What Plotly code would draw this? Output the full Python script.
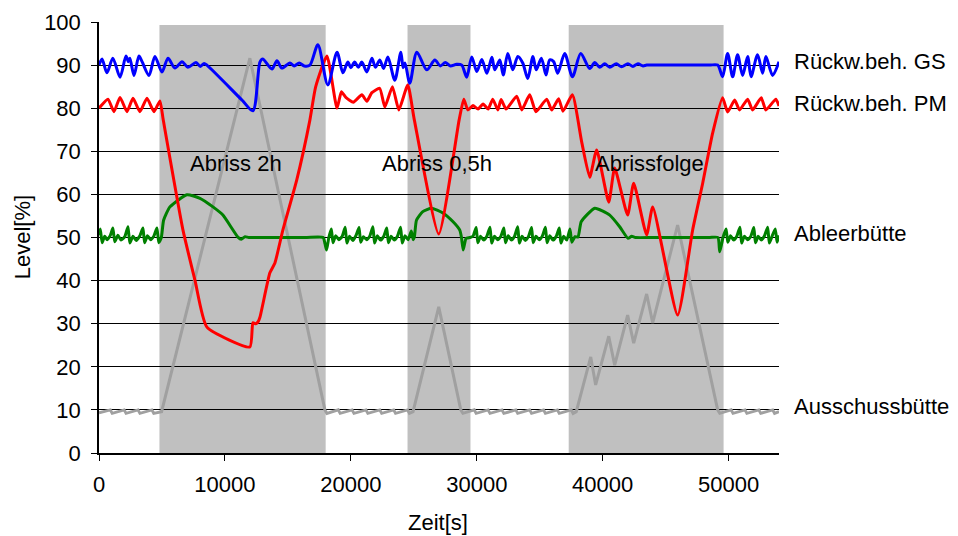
import plotly.graph_objects as go

# ---------------- data ----------------
shade_start = [4800, 24500, 37300]
shade_end = [18000, 29500, 49600]

gs_t = [0, 240, 630, 1100, 1670, 2140, 2330, 2450, 2780, 3170, 3420, 3970, 4440, 5000, 5480, 6030, 6590,
        7060, 7700, 8050, 8350, 8570, 11350, 12220, 12780, 13000, 13730, 14130, 14520, 15160, 15500, 15900,
        16300, 16750, 17380, 18170, 18900, 19370, 19760, 20000, 20300, 20600, 20870, 21270, 21670, 21950,
        22300, 22600, 22940, 23490, 23970, 24150, 24300, 24680, 25240, 26030, 26670, 27100, 27500, 27900,
        28400, 28810, 29200, 29600, 30000, 30400, 30800, 31200, 31430, 31830, 32100, 32460, 32860, 33260,
        33650, 34050, 34460, 34720, 35130, 35500, 35790, 36100, 36430, 36980, 37600, 38250, 38970, 39370,
        39760, 40160, 40560, 41080, 41500, 42000, 42400, 42800, 43200, 43500, 44500, 45500, 46500, 47500,
        48500, 49130, 49520, 49920, 50320,
        50710, 51110, 51510, 51780, 52300, 52700, 52960, 53490, 54000]
gs_v = [90.0, 91.4, 88.2, 91.6, 87.2, 92.1, 90.8, 91.6, 87.6, 92.1, 90.8, 87.6, 92.0, 88.4, 91.6, 89.3, 90.8,
        89.5, 90.6, 89.7, 90.4, 90.0, 81.9, 79.4, 90.7, 91.4, 89.1, 91.0, 89.3, 90.5, 89.8, 90.5,
        89.8, 90.0, 94.7, 85.4, 93.0, 88.2, 90.7, 89.4, 90.7, 89.5, 90.7, 88.4, 91.6, 89.5,
        91.2, 89.2, 91.9, 86.5, 93.0, 89.4, 90.5, 85.8, 93.0, 88.9, 91.2, 89.8, 90.6, 89.8,
        90.2, 90.0, 87.2, 91.9, 88.5, 91.3, 88.1, 91.8, 88.9, 91.2, 87.7, 92.7, 88.9, 92.0,
        90.5, 86.9, 92.0, 88.9, 91.6, 87.7, 91.2, 90.8, 88.1, 92.7, 87.3, 92.7, 89.2, 90.6,
        89.5, 90.3, 89.5, 90.3, 89.6, 90.3, 89.7, 90.3, 89.8, 90.0, 90.0, 90.0, 90.0, 90.0,
        90.0, 90.0, 87.3, 92.7, 87.3,
        92.4, 87.6, 92.0, 87.3, 92.4, 88.1, 92.0, 87.6, 90.8]

pm_t = [0, 710, 1190, 1670, 2220, 2700, 3250, 3810, 4370, 4840, 5100, 6670, 7620, 8570, 11980, 12220, 12450,
        12620, 12780, 13570, 13970, 14600, 15700, 16750, 17200, 18100, 18900, 19250, 19600, 20200, 20870,
        21270, 21670, 22290, 22700, 23300, 23810, 24520, 25040, 26980, 28600, 28970, 29290, 29700, 30100,
        30500, 30900, 31270, 31670, 31930, 32330, 33170, 33570, 34200, 34700, 35550, 35950, 36500, 36850,
        37590, 38330, 38970, 39520, 40480, 40950, 41980, 42460, 43490, 43970, 45950, 47140, 47940, 48730,
        49520, 49920, 50480, 50870, 51510, 51900, 52590, 52960, 53750, 54000]
pm_v = [80.0, 82.1, 79.2, 82.5, 79.2, 82.3, 79.2, 82.3, 79.2, 81.7, 77.3, 51.7, 40.1, 29.2, 24.6, 30.2, 30.0,
        30.4, 31.5, 41.8, 44.1, 51.7, 63.3, 77.3, 84.9, 92.1, 80.0, 83.8, 82.5, 81.4, 83.1,
        81.6, 83.6, 84.6, 80.3, 85.0, 79.6, 85.4, 77.3, 50.8, 77.3, 82.1, 79.6, 80.6, 79.8,
        81.0, 79.8, 82.1, 79.6, 82.0, 79.8, 82.8, 79.6, 83.1, 79.2, 82.1, 79.6, 82.2, 79.3,
        83.1, 72.2, 64.0, 70.3, 58.2, 66.1, 55.2, 62.6, 50.6, 57.1, 32.0, 51.7, 62.6, 74.2,
        82.4, 79.1, 81.9, 79.6, 82.1, 79.6, 82.4, 79.6, 82.1, 80.5]

ab_t = [0, 100, 250, 450, 650, 900, 1100, 1250, 1500, 1750, 2050, 2300, 2450, 2700, 2950, 3250, 3490, 3620,
        3850, 4100, 4350, 4600, 4750, 4950, 5130, 5630, 6980, 8020, 9050, 9840, 11030, 11300, 11600, 11900,
        13500, 15000, 16500,
        17800, 17950, 18070, 18250, 18450, 18580, 18800, 19050, 19300, 19550, 19680, 19900, 20150, 20400,
        20650, 20780, 21000, 21250, 21500, 21750, 21880, 22100, 22350, 22600, 22850, 22980, 23200, 23450,
        23700, 23950, 24080, 24300, 24550, 24800, 24950, 25050, 25210, 25710, 26400, 27310, 28100, 28650,
        28780, 28920, 29150, 29450, 29700, 29950, 30080, 30300, 30550, 30800, 31050, 31180, 31400, 31650,
        31900, 32150, 32280, 32500, 32750, 33000, 33250, 33380, 33600, 33850, 34100, 34350, 34480, 34700,
        34950, 35200, 35450, 35580, 35800, 36050, 36300, 36550, 36680, 36900, 37150, 37400, 37550, 37800,
        38040, 38300, 39370, 40560, 41350, 42010, 42300, 42600, 44000, 45500, 47000, 48500,
        49150, 49290, 49450, 49550, 49800, 49930,
        50150, 50400, 50650, 50900, 51030, 51250, 51500, 51750, 52000, 52130, 52350, 52600, 52850, 53100,
        53230, 53450, 53700, 53850, 54000]
ab_v = [50.5, 52.0, 48.8, 50.3, 49.5, 50.5, 52.2, 49.0, 50.5, 49.4, 50.2, 52.5, 48.7, 50.3, 49.3, 50.4, 52.2, 48.8,
        50.4, 49.5, 50.3, 52.2, 48.8, 50.0, 54.0, 57.1, 59.9, 59.1, 57.1, 55.2, 50.1, 49.6, 50.2, 50.0,
        50.0, 50.0, 50.0,
        50.0, 48.5, 47.1, 50.0, 52.0, 48.8, 50.4, 49.5, 50.2, 52.4, 48.7, 50.3, 49.3, 50.4,
        52.3, 48.9, 50.2, 49.5, 50.3, 52.5, 48.7, 50.4, 49.4, 50.2, 52.2, 48.8, 50.3, 49.4,
        50.3, 52.4, 48.7, 50.4, 49.5, 51.5, 49.5, 50.2, 54.0, 56.0, 56.8, 55.7, 53.7, 51.7,
        50.1, 47.1, 49.8, 50.0, 50.3, 52.3, 48.8, 50.3, 49.4, 50.3, 52.4, 48.7, 50.3, 49.5,
        50.2, 52.2, 48.8, 50.4, 49.4, 50.3, 52.5, 48.7, 50.3, 49.3, 50.2, 52.3, 48.8, 50.3,
        49.5, 50.3, 52.4, 48.8, 50.4, 49.4, 50.2, 52.2, 48.7, 50.3, 49.4, 52.0, 48.9, 50.2,
        50.1, 53.7, 56.8, 55.2, 52.5, 49.8, 50.3, 50.0, 50.0, 50.0, 50.0, 50.0,
        50.0, 46.7, 48.6, 50.0, 52.0, 48.9,
        50.4, 49.4, 50.3, 52.4, 48.7, 50.3, 49.5, 50.2, 52.3, 48.8, 50.3, 49.4, 50.4, 52.4,
        48.7, 50.3, 52.0, 48.9, 50.5]

au_t = [0, 900, 1050, 2000, 2150, 3100, 3250, 4200, 4350, 4970, 11980, 17940, 18100, 19000, 19150, 20100,
        20250, 21200, 21350, 22300, 22450, 23400, 23550, 24500, 24650, 24940, 26980, 28730, 28900, 29800,
        29950, 30900, 31050, 32000, 32150, 33100, 33250, 34200, 34350, 35300, 35450, 36400, 36550, 37500,
        37650, 37900, 39050, 39440, 40480, 40950, 41980, 42460, 43490, 43970, 45950, 49130, 49300, 50200,
        50350, 51300, 51450, 52400, 52550, 53500, 53650, 54000]
au_v = [9.3, 10.0, 9.2, 10.0, 9.2, 10.0, 9.2, 10.0, 9.2, 9.6, 91.6, 10.0, 9.2, 10.0, 9.2, 10.0,
        9.2, 10.0, 9.2, 10.0, 9.2, 10.0, 9.2, 10.0, 9.2, 9.6, 33.9, 10.0, 9.2, 10.0,
        9.2, 10.0, 9.2, 10.0, 9.2, 10.0, 9.2, 10.0, 9.2, 10.0, 9.2, 10.0, 9.2, 10.0,
        9.2, 9.6, 22.3, 15.8, 27.1, 20.4, 32.0, 25.5, 36.9, 30.2, 52.9, 10.0, 9.2, 10.0,
        9.2, 10.0, 9.2, 10.0, 9.2, 10.0, 9.2, 9.6]

series_names = ["Rückw.beh. GS", "Rückw.beh. PM", "Ableerbütte", "Ausschussbütte"]
series_label_y = [90.9, 81.0, 51.0, 10.9]
event_labels = ["Abriss 2h", "Abriss 0,5h", "Abrissfolge"]
event_x = [10910, 26825, 43730]
event_y = [67.2, 67.2, 67.2]
x_ticks = [0, 10000, 20000, 30000, 40000, 50000]
x_tick_text = ["0", "10000", "20000", "30000", "40000", "50000"]
y_ticks = [0, 10, 20, 30, 40, 50, 60, 70, 80, 90, 100]

# ---------------- figure ----------------
FONT = "Liberation Sans, Arial, sans-serif"
fig = go.Figure()

for s, e in zip(shade_start, shade_end):
    fig.add_shape(type="rect", xref="x", yref="y", x0=s, x1=e, y0=0, y1=99.3,
                  fillcolor="#C0C0C0", line=dict(width=0), layer="below")

fig.add_trace(go.Scatter(x=au_t, y=au_v, mode="lines", line=dict(color="#A0A0A0", width=3),
                         name=series_names[3]))
fig.add_trace(go.Scatter(x=ab_t, y=ab_v, mode="lines",
                         line=dict(color="#008000", width=3, shape="spline", smoothing=0.5),
                         name=series_names[2]))
fig.add_trace(go.Scatter(x=pm_t, y=pm_v, mode="lines",
                         line=dict(color="#FF0000", width=3, shape="spline", smoothing=0.5),
                         name=series_names[1]))
fig.add_trace(go.Scatter(x=gs_t, y=gs_v, mode="lines",
                         line=dict(color="#0000FF", width=3, shape="spline", smoothing=0.8),
                         name=series_names[0]))

for name, yv in zip(series_names, series_label_y):
    fig.add_annotation(x=1.019, xref="paper", y=yv, yref="y", text=name, showarrow=False,
                       xanchor="left", yanchor="middle", font=dict(size=22, color="black", family=FONT))

for lab, xv, yv in zip(event_labels, event_x, event_y):
    fig.add_annotation(x=xv, y=yv, xref="x", yref="y", text=lab, showarrow=False,
                       xanchor="center", yanchor="middle", font=dict(size=22, color="black", family=FONT))

fig.add_annotation(x=-0.113, y=0.501, xref="paper", yref="paper", text="Level[%]", textangle=-90,
                   showarrow=False, xanchor="center", yanchor="middle",
                   font=dict(size=22, color="black", family=FONT))
fig.add_annotation(x=0.4985, y=-0.162, xref="paper", yref="paper", text="Zeit[s]",
                   showarrow=False, xanchor="center", yanchor="middle",
                   font=dict(size=22, color="black", family=FONT))

# The page body has a default 8px margin, so the figure is sized to fit the window.
fig.update_layout(
    width=950, height=528,
    margin=dict(l=91, r=179, t=14, b=83, autoexpand=False),
    paper_bgcolor="white", plot_bgcolor="white",
    showlegend=False,
    font=dict(family=FONT, size=22, color="black"),
    xaxis=dict(range=[0, 54000], tickvals=x_ticks, ticktext=x_tick_text, ticks="outside", ticklen=6,
               tickcolor="black", showline=True, linecolor="black", linewidth=1.5, showgrid=False,
               zeroline=False, automargin=False, tickfont=dict(size=22, color="black"),
               ticklabelstandoff=5),
    yaxis=dict(range=[0, 100], tickvals=y_ticks, ticks="outside", ticklen=6, tickcolor="black",
               showline=True, linecolor="black", linewidth=1.5, showgrid=True, gridcolor="black",
               gridwidth=1, zeroline=False, automargin=False, tickfont=dict(size=22, color="black"),
               ticklabelstandoff=6),
)

fig.write_html("out.html")
